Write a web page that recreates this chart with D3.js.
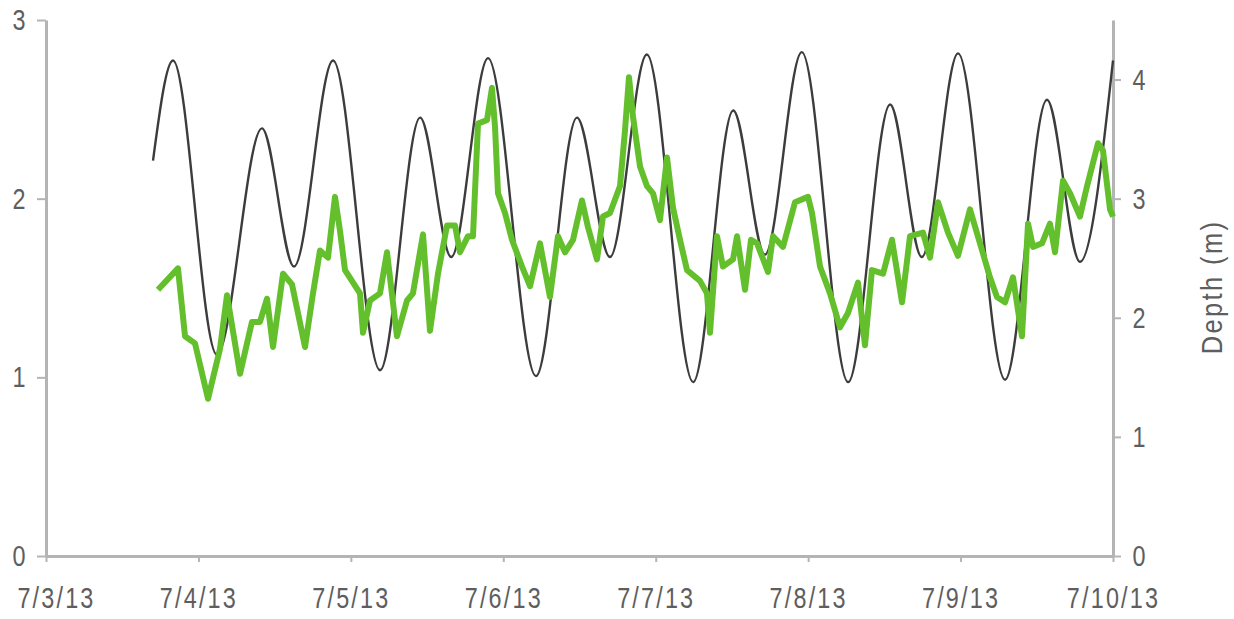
<!DOCTYPE html>
<html>
<head>
<meta charset="utf-8">
<script src="https://cdn.jsdelivr.net/npm/d3@7"></script>
<style>
  html, body { margin: 0; padding: 0; background: #ffffff; }
  svg { display: block; }
  .tick text, .axis-title {
    font-family: "Liberation Sans", Arial, sans-serif;
    font-size: 30px;
    letter-spacing: 2.8px;
    fill: #5e5e5e;
  }
</style>
</head>
<body>
<svg id="chart" width="1234" height="619"></svg>
<script>
// Week of 3 July 2013; times are hours after midnight on 7/3.
const startDate = new Date(2013, 6, 3);
const endDate = new Date(2013, 6, 10);

// Tide depth (m), right axis: high and low water turning points.
const tideHours = [16.85, 20.0, 26.9, 34.0, 39.05, 45.2, 52.6, 58.9, 63.8, 69.6,
  77.15, 83.6, 88.8, 94.6, 101.9, 108.2, 113.2, 119.0, 126.3, 132.9,
  137.9, 143.6, 151.0, 157.6, 162.8, 168.0];
const tideDepth = [3.32, 4.16, 1.69, 3.59, 2.43, 4.16, 1.56, 3.68, 2.51, 4.18,
  1.51, 3.68, 2.51, 4.21, 1.46, 3.74, 2.53, 4.23, 1.46, 3.79,
  2.51, 4.22, 1.48, 3.83, 2.47, 4.16];

// Measured series, left axis.
const levelHours = [17.63, 20.78, 21.89, 23.46, 25.51, 27.40, 28.50, 30.55, 32.43, 33.69,
  34.80, 35.74, 37.32, 38.73, 40.78, 42.04, 43.14, 44.40, 45.50, 46.29,
  47.08, 49.44, 49.91, 51.01, 52.59, 53.69, 55.26, 56.84, 57.78, 59.36,
  60.46, 61.72, 63.14, 64.40, 65.18, 66.44, 67.23, 68.02, 69.44, 70.22,
  70.70, 71.17, 72.27, 73.37, 74.95, 76.21, 77.78, 79.35, 80.61, 81.72,
  82.98, 84.39, 85.34, 86.75, 87.70, 88.80, 90.38, 91.16, 91.79, 92.42,
  93.53, 94.63, 95.57, 96.67, 97.78, 98.72, 99.82, 100.93, 102.97, 104.07,
  104.55, 105.65, 106.59, 108.17, 108.80, 110.06, 111.00, 111.95, 113.68, 114.47,
  116.04, 117.93, 119.98, 120.61, 121.87, 123.44, 125.02, 126.27, 127.85, 128.95,
  130.05, 131.79, 133.20, 134.78, 136.04, 138.08, 139.19, 140.45, 142.02, 143.59,
  145.48, 147.06, 148.63, 149.73, 151.00, 152.25, 153.67, 154.62, 155.40, 156.82,
  158.08, 158.87, 160.13, 161.23, 162.80, 163.91, 165.64, 166.42, 167.53, 168.0];
const levelValues = [1.49, 1.61, 1.23, 1.19, 0.88, 1.16, 1.46, 1.02, 1.31, 1.31,
  1.44, 1.17, 1.58, 1.52, 1.17, 1.47, 1.71, 1.67, 2.01, 1.82,
  1.60, 1.47, 1.25, 1.43, 1.47, 1.70, 1.23, 1.43, 1.47, 1.80,
  1.26, 1.58, 1.85, 1.85, 1.70, 1.79, 1.79, 2.42, 2.44, 2.62,
  2.40, 2.03, 1.92, 1.77, 1.62, 1.51, 1.75, 1.45, 1.79, 1.70,
  1.77, 1.99, 1.84, 1.66, 1.90, 1.92, 2.07, 2.38, 2.68, 2.46,
  2.18, 2.07, 2.03, 1.88, 2.23, 1.95, 1.77, 1.60, 1.54, 1.47,
  1.25, 1.79, 1.62, 1.66, 1.79, 1.49, 1.77, 1.75, 1.59, 1.79,
  1.73, 1.98, 2.01, 1.92, 1.62, 1.47, 1.28, 1.36, 1.53, 1.18,
  1.60, 1.58, 1.77, 1.42, 1.79, 1.81, 1.67, 1.98, 1.81, 1.68,
  1.94, 1.75, 1.56, 1.45, 1.42, 1.56, 1.23, 1.86, 1.73, 1.75,
  1.86, 1.70, 2.10, 2.03, 1.90, 2.07, 2.31, 2.27, 1.94, 1.90];

const leftTicks = [0, 1, 2, 3];
const rightTicks = [0, 1, 2, 3, 4];
const dayTicks = d3.timeDay.range(startDate, d3.timeDay.offset(endDate, 1));

const plot = { left: 46, right: 1113, top: 20, bottom: 556 };
const squeeze = 0.78;  // narrow lettering: horizontal squeeze of the text

const toDate = h => new Date(startDate.getTime() + h * 3600e3);

const x = d3.scaleTime().domain([startDate, endDate]).range([plot.left, plot.right]);
const yLeft = d3.scaleLinear().domain([0, 3]).range([plot.bottom, plot.top]);
const yRight = d3.scaleLinear().domain([0, 4.5]).range([plot.bottom, plot.top]);

const svg = d3.select("#chart");
const axisColor = "#b4b4b4";

// Bottom (date) axis
const gx = svg.append("g")
  .attr("transform", `translate(0,${plot.bottom})`)
  .call(d3.axisBottom(x).tickValues(dayTicks).tickSize(6).tickPadding(25)
    .tickFormat(d3.timeFormat("%-m/%-d/%y")).tickSizeOuter(0));
gx.selectAll(".tick text")
  .attr("dy", "0.71em")
  .attr("text-anchor", "middle")
  .attr("x", (d, i) => (i === 0 ? 10 : 0) / squeeze)
  .attr("transform", `scale(${squeeze},1)`);

// Left axis
const gl = svg.append("g")
  .attr("transform", `translate(${plot.left},0)`)
  .call(d3.axisLeft(yLeft).tickValues(leftTicks).tickSize(9).tickSizeOuter(0)
    .tickFormat(d3.format("d")));
gl.selectAll(".tick text")
  .attr("x", -26 / squeeze)
  .attr("text-anchor", "middle")
  .attr("transform", `scale(${squeeze},1)`);

// Right axis
const gr = svg.append("g")
  .attr("transform", `translate(${plot.right},0)`)
  .call(d3.axisRight(yRight).tickValues(rightTicks).tickSize(8).tickSizeOuter(0)
    .tickFormat(d3.format("d")));
gr.selectAll(".tick text")
  .attr("x", 27 / squeeze)
  .attr("text-anchor", "middle")
  .attr("transform", `scale(${squeeze},1)`);

[gx, gl, gr].forEach(g => {
  g.select(".domain").attr("stroke", axisColor).attr("stroke-width", 3);
  g.selectAll(".tick line").attr("stroke", axisColor).attr("stroke-width", 2);
  g.selectAll(".tick text").attr("fill", "#5e5e5e");
});

// Right axis title
svg.append("text")
  .attr("class", "axis-title")
  .attr("transform", `translate(1222,${(plot.top + plot.bottom) / 2 - 1}) rotate(-90) scale(0.85,1)`)
  .attr("text-anchor", "middle")
  .text("Depth (m)");

// Tide curve
const tide = tideHours.map((h, i) => ({ t: toDate(h), v: tideDepth[i] }));
svg.append("path")
  .datum(tide)
  .attr("fill", "none")
  .attr("stroke", "#3c3c3c")
  .attr("stroke-width", 2.4)
  .attr("d", d3.line().x(d => x(d.t)).y(d => yRight(d.v)).curve(d3.curveMonotoneX));

// Measured series
const level = levelHours.map((h, i) => ({ t: toDate(h), v: levelValues[i] }));
svg.append("path")
  .datum(level)
  .attr("fill", "none")
  .attr("stroke", "#64bf2c")
  .attr("stroke-width", 6)
  .attr("stroke-linejoin", "round")
  .attr("d", d3.line().x(d => x(d.t)).y(d => yLeft(d.v)));
</script>
</body>
</html>
